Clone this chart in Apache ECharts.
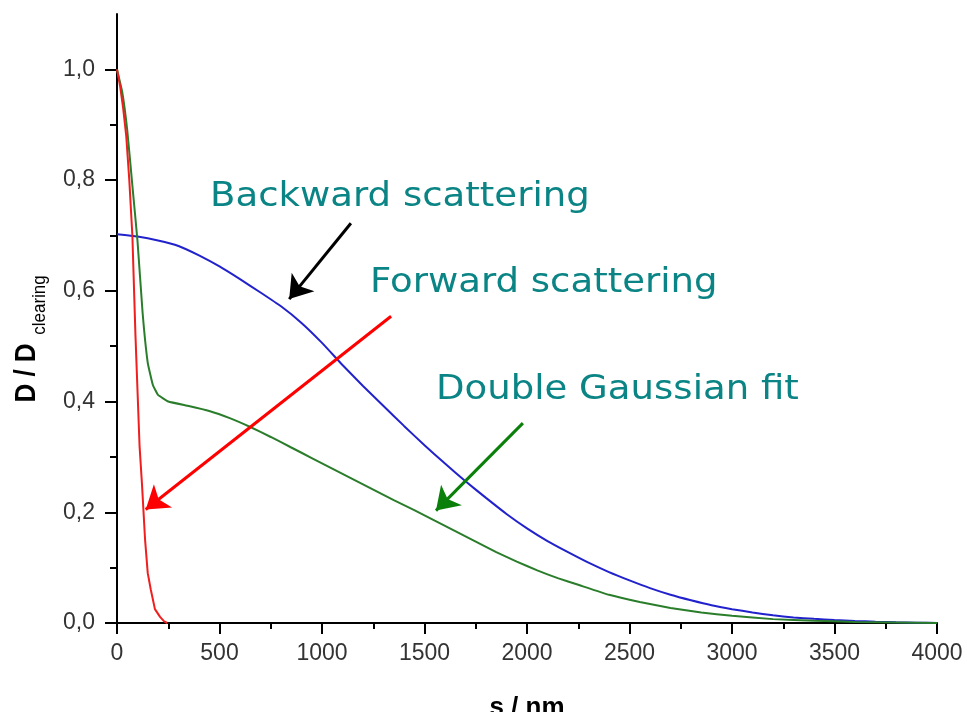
<!DOCTYPE html>
<html>
<head>
<meta charset="utf-8">
<script src="https://cdn.jsdelivr.net/npm/echarts@6/dist/echarts.min.js"></script>
<style>
  html, body { margin: 0; padding: 0; background: #ffffff; }
  #chart { width: 967px; height: 712px; }
</style>
</head>
<body>
<div id="chart"></div>
<script>
// Normalised dose D / D_clearing versus distance (nm)

// Backward scattering (blue)
const backwardX = [0, 100, 200, 300, 400, 500, 600, 700, 800, 900, 1000, 1100, 1200, 1300, 1400, 1500, 1600, 1700, 1800, 1900, 2000, 2100, 2200, 2300, 2400, 2500, 2600, 2700, 2800, 2900, 3000, 3100, 3200, 3300, 3400, 3500, 3600, 3700, 3800, 3900, 4000];
const backwardY = [0.702, 0.698, 0.691, 0.681, 0.664, 0.644, 0.621, 0.597, 0.572, 0.542, 0.506, 0.466, 0.428, 0.392, 0.356, 0.321, 0.288, 0.256, 0.226, 0.197, 0.171, 0.148, 0.128, 0.109, 0.092, 0.077, 0.063, 0.051, 0.041, 0.032, 0.025, 0.019, 0.014, 0.010, 0.0075, 0.0055, 0.0038, 0.0024, 0.0013, 0.0005, 0];

// Double Gaussian fit (green)
const fitX = [0, 25, 50, 75, 100, 125, 150, 175, 200, 250, 350, 450, 550, 650, 750, 850, 950, 1050, 1150, 1250, 1350, 1450, 1550, 1650, 1750, 1850, 1950, 2050, 2150, 2250, 2400, 2550, 2700, 2850, 3000, 3200, 3400, 3600, 3800, 4000];
const fitY = [1.0, 0.96, 0.89, 0.79, 0.69, 0.56, 0.47, 0.43, 0.412, 0.400, 0.392, 0.383, 0.370, 0.354, 0.336, 0.317, 0.298, 0.279, 0.260, 0.241, 0.222, 0.204, 0.185, 0.166, 0.147, 0.128, 0.111, 0.095, 0.081, 0.069, 0.051, 0.038, 0.027, 0.019, 0.013, 0.007, 0.004, 0.002, 0.001, 0];

// Forward scattering (red)
const forwardX = [0, 15, 30, 45, 60, 75, 90, 100, 110, 122, 137, 150, 165, 185, 210, 230, 245];
const forwardY = [1.0, 0.97, 0.93, 0.88, 0.80, 0.70, 0.52, 0.42, 0.32, 0.25, 0.15, 0.09, 0.06, 0.025, 0.011, 0.003, 0];

// Axis ticks
const xTickStep = 500;
const yMajorTicks = [0, 0.2, 0.4, 0.6, 0.8, 1.0];
const yMinorTicks = [0.1, 0.3, 0.5, 0.7, 0.9];

// Callout arrows, in data coordinates: [from, to]
const arrowBackward = [[1141, 0.722], [840, 0.585]];
const arrowForward = [[1337, 0.554], [140, 0.205]];
const arrowFit = [[1980, 0.361], [1556, 0.203]];

const zip = (xs, ys) => xs.map((x, i) => [x, ys[i]]);

const chart = echarts.init(document.getElementById('chart'), null, { renderer: 'canvas' });

const labelFont = { fontFamily: '"Liberation Sans", Arial, sans-serif', fontSize: 23, color: '#333333' };
const axisBlack = { color: '#000000', width: 2 };

function arrow(points, color) {
  return {
    silent: true,
    animation: false,
    symbol: ['none', 'arrow'],
    symbolSize: 22,
    label: { show: false },
    emphasis: { disabled: true },
    itemStyle: { color: color },
    lineStyle: { color: color, width: 3, type: 'solid' },
    data: [[{ coord: points[0] }, { coord: points[1] }]]
  };
}

const teal = '#0a8484';
const noteFont = { fontFamily: '"DejaVu Sans", Verdana, sans-serif', fontSize: 34, fill: teal };

chart.setOption({
  backgroundColor: '#ffffff',
  animation: false,
  grid: { left: 117, right: 30, top: 14, bottom: 89, containLabel: false, outerBoundsMode: 'none' },
  xAxis: {
    type: 'value',
    min: 0,
    max: 4000,
    interval: xTickStep,
    name: 's / nm',
    nameLocation: 'middle',
    nameGap: 72,
    nameTextStyle: { fontFamily: '"Liberation Sans", Arial, sans-serif', fontWeight: 'bold', fontSize: 26, color: '#000000' },
    axisLine: { show: true, lineStyle: axisBlack },
    axisTick: { show: true, length: 11, lineStyle: axisBlack },
    minorTick: { show: true, splitNumber: 2, length: 6, lineStyle: axisBlack },
    axisLabel: Object.assign({ margin: 19, formatter: v => String(v) }, labelFont),
    splitLine: { show: false },
    minorSplitLine: { show: false }
  },
  yAxis: [
    {
      type: 'value',
      min: 0,
      max: 1.1,
      interval: 0.1,
      axisLine: { show: true, lineStyle: axisBlack },
      axisTick: { show: true, length: 12, lineStyle: axisBlack, customValues: yMajorTicks },
      axisLabel: Object.assign({
        margin: 22,
        customValues: yMajorTicks,
        formatter: v => v.toFixed(1).replace('.', ',')
      }, labelFont),
      splitLine: { show: false }
    },
    {
      type: 'value',
      min: 0,
      max: 1.1,
      interval: 0.1,
      position: 'left',
      axisLine: { show: false },
      axisTick: { show: true, length: 7, lineStyle: axisBlack, customValues: yMinorTicks },
      axisLabel: { show: false },
      splitLine: { show: false }
    }
  ],
  series: [
    {
      name: 'Backward scattering',
      type: 'line',
      data: zip(backwardX, backwardY),
      showSymbol: false,
      symbol: 'none',
      smooth: 0.15,
      lineStyle: { color: '#2222cc', width: 2 },
      itemStyle: { color: '#2222cc' },
      z: 2,
      markLine: arrow(arrowBackward, '#000000')
    },
    {
      name: 'Double Gaussian fit',
      type: 'line',
      data: zip(fitX, fitY),
      showSymbol: false,
      symbol: 'none',
      smooth: 0.1,
      lineStyle: { color: '#2a7d2a', width: 2 },
      itemStyle: { color: '#2a7d2a' },
      z: 3,
      markLine: arrow(arrowFit, '#0a800a')
    },
    {
      name: 'Forward scattering',
      type: 'line',
      data: zip(forwardX, forwardY),
      showSymbol: false,
      symbol: 'none',
      lineStyle: { color: '#f01e1e', width: 2 },
      itemStyle: { color: '#f01e1e' },
      z: 4,
      markLine: arrow(arrowForward, '#ff0000')
    }
  ],
  graphic: [
    // y-axis title: D / D with subscript "clearing", read bottom-to-top
    {
      type: 'text',
      x: 27, y: 373,
      rotation: Math.PI / 2,
      scaleY: 1.12,
      style: {
        text: 'D / D',
        fontFamily: '"Liberation Sans", Arial, sans-serif',
        fontWeight: 'bold',
        fontSize: 26,
        fill: '#000000',
        align: 'center',
        verticalAlign: 'middle'
      }
    },
    {
      type: 'text',
      x: 40, y: 305,
      rotation: Math.PI / 2,
      scaleY: 1.1,
      style: {
        text: 'clearing',
        fontFamily: '"Liberation Sans", Arial, sans-serif',
        fontSize: 17,
        fill: '#000000',
        align: 'center',
        verticalAlign: 'middle'
      }
    },
    // Curve callouts
    {
      type: 'text', x: 210, y: 197, scaleX: 1.09,
      style: Object.assign({ text: 'Backward scattering', align: 'left', verticalAlign: 'middle' }, noteFont)
    },
    {
      type: 'text', x: 370, y: 283, scaleX: 1.09,
      style: Object.assign({ text: 'Forward scattering', align: 'left', verticalAlign: 'middle' }, noteFont)
    },
    {
      type: 'text', x: 436, y: 390, scaleX: 1.09,
      style: Object.assign({ text: 'Double Gaussian fit', align: 'left', verticalAlign: 'middle' }, noteFont)
    }
  ]
});
</script>
</body>
</html>
